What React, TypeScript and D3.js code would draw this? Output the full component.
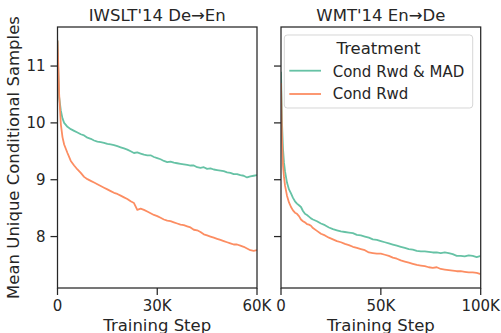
import React from "react";
import * as d3 from "d3";

const titles = ["IWSLT'14 De→En", "WMT'14 En→De"];
const seriesNames = ["Cond Rwd & MAD", "Cond Rwd"];
const colors = ["#66c2a5", "#fc8d62"];
const yTicks = [8, 9, 10, 11];
const leftXTicks = [0, 30000, 60000];
const rightXTicks = [0, 50000, 100000];
const tickLabel = (v: number) => (v === 0 ? "0" : `${v / 1000}K`);

const leftSteps = [0, 250, 500, 1000, 1500, 2000, 3000, 4000, 5000, 6000, 7000, 8000, 9000, 10000, 11000, 12000, 13000, 14000, 15000, 16000, 17000, 18000, 19000, 20000, 21000, 22000, 23000, 24000, 25000, 26000, 27000, 28000, 29000, 30000, 31000, 32000, 33000, 34000, 35000, 36000, 37000, 38000, 39000, 40000, 41000, 42000, 43000, 44000, 45000, 46000, 47000, 48000, 49000, 50000, 51000, 52000, 53000, 54000, 55000, 56000, 57000, 58000, 59000, 60000];
const leftMad = [11.45, 10.85, 10.45, 10.22, 10.08, 10.0, 9.93, 9.89, 9.86, 9.83, 9.8, 9.78, 9.74, 9.72, 9.69, 9.67, 9.66, 9.65, 9.63, 9.62, 9.61, 9.59, 9.57, 9.55, 9.53, 9.5, 9.47, 9.48, 9.46, 9.44, 9.43, 9.43, 9.4, 9.38, 9.36, 9.33, 9.31, 9.32, 9.3, 9.29, 9.28, 9.27, 9.26, 9.25, 9.25, 9.22, 9.21, 9.22, 9.19, 9.2, 9.18, 9.17, 9.16, 9.15, 9.13, 9.12, 9.1, 9.1, 9.08, 9.07, 9.04, 9.06, 9.07, 9.08];
const leftRwd = [11.45, 11.0, 10.5, 9.98, 9.75, 9.62, 9.47, 9.33, 9.25, 9.18, 9.12, 9.05, 9.01, 8.98, 8.95, 8.92, 8.89, 8.86, 8.83, 8.8, 8.77, 8.75, 8.72, 8.69, 8.66, 8.62, 8.59, 8.47, 8.49, 8.47, 8.44, 8.41, 8.38, 8.36, 8.33, 8.3, 8.28, 8.27, 8.25, 8.23, 8.21, 8.2, 8.18, 8.16, 8.12, 8.11, 8.08, 8.04, 8.02, 8.0, 7.98, 7.96, 7.94, 7.92, 7.9, 7.88, 7.86, 7.86, 7.84, 7.82, 7.79, 7.76, 7.75, 7.76];

const rightSteps = [0, 500, 1000, 1500, 2000, 3000, 4000, 5000, 6000, 7000, 8000, 9000, 10000, 11000, 12000, 13000, 14000, 15000, 16000, 18000, 20000, 22000, 24000, 26000, 28000, 30000, 32000, 34000, 36000, 38000, 40000, 42000, 44000, 46000, 48000, 50000, 52000, 54000, 56000, 58000, 60000, 62000, 64000, 66000, 68000, 70000, 72000, 74000, 76000, 78000, 80000, 82000, 84000, 86000, 88000, 90000, 92000, 94000, 96000, 98000, 100000];
const rightMad = [10.9, 10.0, 9.55, 9.3, 9.15, 8.95, 8.83, 8.76, 8.68, 8.62, 8.58, 8.55, 8.52, 8.45, 8.4, 8.38, 8.35, 8.32, 8.3, 8.27, 8.23, 8.2, 8.16, 8.13, 8.11, 8.09, 8.08, 8.07, 8.06, 8.03, 8.02, 8.0, 7.98, 7.95, 7.94, 7.92, 7.9, 7.88, 7.86, 7.84, 7.82, 7.8, 7.78, 7.77, 7.75, 7.74, 7.74, 7.73, 7.72, 7.72, 7.71, 7.72, 7.71, 7.69, 7.66, 7.66, 7.65, 7.67, 7.66, 7.64, 7.66];
const rightRwd = [10.7, 9.7, 9.25, 9.05, 8.9, 8.72, 8.6, 8.52, 8.46, 8.42, 8.4, 8.36, 8.3, 8.27, 8.25, 8.22, 8.21, 8.19, 8.15, 8.1, 8.05, 8.02, 7.98, 7.95, 7.92, 7.9, 7.87, 7.85, 7.82, 7.8, 7.78, 7.76, 7.72, 7.71, 7.7, 7.7, 7.68, 7.66, 7.63, 7.61, 7.58, 7.56, 7.54, 7.52, 7.5, 7.49, 7.48, 7.46, 7.45, 7.46, 7.43, 7.42, 7.41, 7.4, 7.39, 7.39, 7.38, 7.37, 7.37, 7.36, 7.34];

const W = 501;
const H = 333;
const top = 27;
const bottom = 288;
const textColor = "#262626";
const font = "DejaVu Sans, sans-serif";

type Panel = {
  title: string;
  x0: number;
  x1: number;
  xMax: number;
  xTicks: number[];
  steps: number[];
  series: number[][];
  showYLabels: boolean;
  legend: boolean;
};

const panels: Panel[] = [
  { title: titles[0], x0: 57.5, x1: 257, xMax: 60000, xTicks: leftXTicks, steps: leftSteps, series: [leftMad, leftRwd], showYLabels: true, legend: false },
  { title: titles[1], x0: 281, x1: 480.7, xMax: 100000, xTicks: rightXTicks, steps: rightSteps, series: [rightMad, rightRwd], showYLabels: false, legend: true },
];

const y = d3.scaleLinear().domain([7.095, 11.687]).range([bottom, top]);

function PanelView({ p, idx }: { p: Panel; idx: number }) {
  const x = d3.scaleLinear().domain([0, p.xMax]).range([p.x0, p.x1]);
  const clipId = `clip${idx}`;
  const cx = (p.x0 + p.x1) / 2;
  return (
    <g>
      <defs>
        <clipPath id={clipId}>
          <rect x={p.x0} y={top} width={p.x1 - p.x0} height={bottom - top} />
        </clipPath>
      </defs>
      <g clipPath={`url(#${clipId})`}>
        {p.series.map((s, i) => {
          const line = d3
            .line<number>()
            .x((_, j) => x(p.steps[j]))
            .y((d) => y(d));
          return (
            <path key={i} d={line(s) || ""} fill="none" stroke={colors[i]} strokeWidth={1.8} strokeLinejoin="round" />
          );
        })}
      </g>
      <rect x={p.x0} y={top} width={p.x1 - p.x0} height={bottom - top} fill="none" stroke={textColor} strokeWidth={1.25} />
      {yTicks.map((t) => (
        <g key={t}>
          <line x1={p.x0 - 7} x2={p.x0} y1={y(t)} y2={y(t)} stroke={textColor} strokeWidth={1.25} />
          {p.showYLabels && (
            <text x={p.x0 - 12} y={y(t)} dy="0.36em" textAnchor="end" fontSize={15} fill={textColor} fontFamily={font}>
              {t}
            </text>
          )}
        </g>
      ))}
      {p.xTicks.map((t) => (
        <g key={t}>
          <line x1={x(t)} x2={x(t)} y1={bottom} y2={bottom + 7} stroke={textColor} strokeWidth={1.25} />
          <text x={x(t)} y={310.7} textAnchor="middle" fontSize={15} fill={textColor} fontFamily={font}>
            {tickLabel(t)}
          </text>
        </g>
      ))}
      <text x={cx} y={331.3} textAnchor="middle" fontSize={16.5} fill={textColor} fontFamily={font}>
        Training Step
      </text>
      <text x={cx} y={20.7} textAnchor="middle" fontSize={16.5} fill={textColor} fontFamily={font}>
        {p.title}
      </text>
      {p.legend && (
        <g>
          <rect x={284.3} y={35} width={188.4} height={73} rx={3} ry={3} fill="#ffffff" fillOpacity={0.8} stroke="#cccccc" strokeOpacity={0.8} strokeWidth={1} />
          <text x={378.5} y={54} textAnchor="middle" fontSize={16.5} fill={textColor} fontFamily={font}>
            Treatment
          </text>
          {seriesNames.map((n, i) => (
            <g key={n}>
              <line x1={289.3} x2={321} y1={70.7 + i * 23.3} y2={70.7 + i * 23.3} stroke={colors[i]} strokeWidth={1.8} />
              <text x={332.7} y={76.7 + i * 22.6} fontSize={15} fill={textColor} fontFamily={font}>
                {n}
              </text>
            </g>
          ))}
        </g>
      )}
    </g>
  );
}

export default function App() {
  return (
    <svg width={W} height={H} style={{ position: "absolute", left: 0, top: 0, background: "#fff" }}>
      <rect width={W} height={H} fill="#fff" />
      {panels.map((p, i) => (
        <PanelView key={i} p={p} idx={i} />
      ))}
      <text transform={`translate(18.5,${(top + bottom) / 2}) rotate(-90)`} textAnchor="middle" fontSize={16.5} fill={textColor} fontFamily={font}>
        Mean Unique Conditional Samples
      </text>
    </svg>
  );
}
